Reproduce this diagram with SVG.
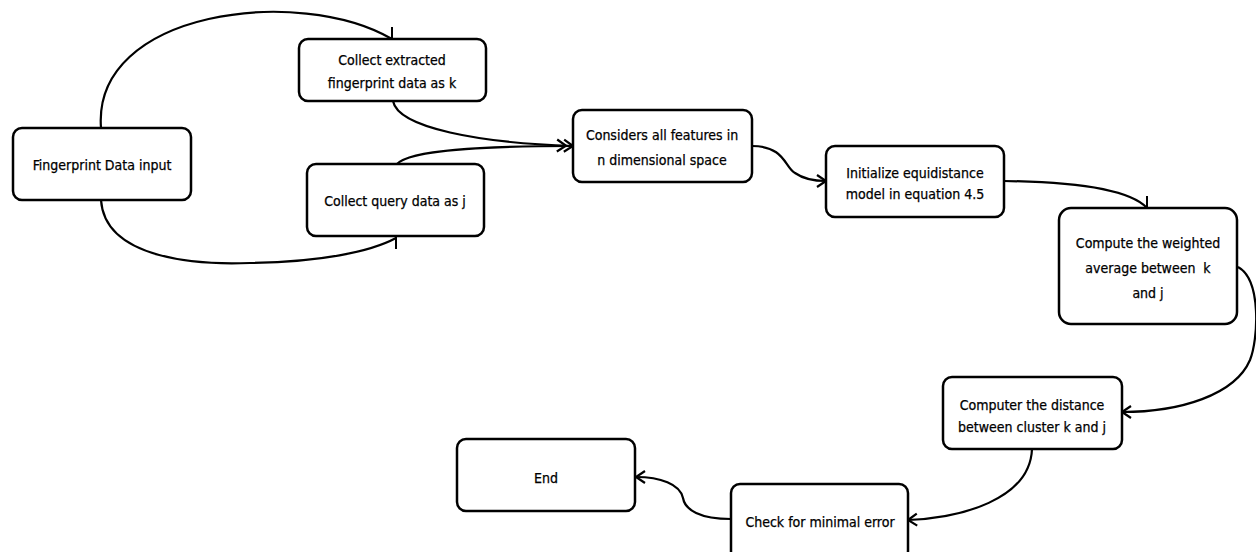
<svg xmlns="http://www.w3.org/2000/svg" width="1256" height="552" viewBox="0 0 1256 552">
<style>
.node rect{fill:#fff;stroke:#000;stroke-width:2.5}
.node text{font-family:"Liberation Sans Narrow","DejaVu Sans Condensed","Liberation Sans",sans-serif;font-size:14px;fill:#000;stroke:#000;stroke-width:0.25;text-anchor:middle;white-space:pre}
.conn path{fill:none;stroke:#000;stroke-width:2.2}
</style>
<defs>
<marker id="open" viewBox="-12 -8 14 16" refX="0" refY="0" markerWidth="14" markerHeight="16" markerUnits="userSpaceOnUse" orient="auto">
<path d="M-9,-6 L0,0 L-9,6" fill="none" stroke="#000" stroke-width="2.2"/>
</marker>
<marker id="dbl" viewBox="-20 -8 22 16" refX="0" refY="0" markerWidth="22" markerHeight="16" markerUnits="userSpaceOnUse" orient="auto">
<path d="M-9,-6 L0,0 L-9,6 M-16,-6 L-7,0 L-16,6" fill="none" stroke="#000" stroke-width="2.2"/>
</marker>
<marker id="tickUp" viewBox="-3 -14 6 16" refX="0" refY="0" markerWidth="6" markerHeight="16" markerUnits="userSpaceOnUse" orient="0">
<path d="M0,1 L0,-12" fill="none" stroke="#000" stroke-width="2"/>
</marker>
<marker id="tickDown" viewBox="-3 -2 6 16" refX="0" refY="0" markerWidth="6" markerHeight="16" markerUnits="userSpaceOnUse" orient="0">
<path d="M0,-1 L0,11" fill="none" stroke="#000" stroke-width="2"/>
</marker>
</defs>
<g id="connectors" class="conn">
<path d="M101,128 C92,10 300,-15 392,39" marker-end="url(#tickUp)"/>
<path d="M101,200 C105,260 200,265 250,263 C320,262 370,252 396,238" marker-end="url(#tickDown)"/>
<path d="M393,101 C398,128 480,143 573,146" marker-end="url(#dbl)"/>
<path d="M397,164 C410,150 480,146 573,146"/>
<path d="M752,146 C785,146 785,168 795,173 C805,180 815,181 826,181" marker-end="url(#open)"/>
<path d="M1004,181 C1080,182 1130,190 1147,208" marker-end="url(#tickUp)"/>
<path d="M1238,267 C1262,280 1258,340 1250,360 C1235,395 1180,412 1122,412" marker-end="url(#open)"/>
<path d="M1032,449 C1030,500 960,518 908,520" marker-end="url(#open)"/>
<path d="M731,519 C700,519 685,510 683,498 C680,484 660,477 636,477" marker-end="url(#open)"/>
</g>
<g id="n1" class="node"><rect x="13" y="128" width="178" height="72" rx="9"/><text x="102" y="170">Fingerprint Data input</text></g>
<g id="n2" class="node"><rect x="299" y="39" width="187" height="62" rx="9"/><text x="392" y="65">Collect extracted</text><text x="392" y="88">fingerprint data as k</text></g>
<g id="n3" class="node"><rect x="307" y="164" width="177" height="72" rx="9"/><text x="395" y="206">Collect query data as j</text></g>
<g id="n4" class="node"><rect x="573" y="110" width="179" height="72" rx="9"/><text x="662" y="140">Considers all features in</text><text x="662" y="165">n dimensional space</text></g>
<g id="n5" class="node"><rect x="826" y="146" width="178" height="71" rx="9"/><text x="915" y="178">Initialize equidistance</text><text x="915" y="199">model in equation 4.5</text></g>
<g id="n6" class="node"><rect x="1059" y="208" width="178" height="116" rx="12"/><text x="1148" y="248">Compute the weighted</text><text x="1148" y="273">average between  k</text><text x="1148" y="298">and j</text></g>
<g id="n7" class="node"><rect x="943" y="377" width="179" height="72" rx="9"/><text x="1032" y="410">Computer the distance</text><text x="1032" y="432">between cluster k and j</text></g>
<g id="n8" class="node"><rect x="731" y="484" width="177" height="76" rx="9"/><text x="820" y="527">Check for minimal error</text></g>
<g id="n9" class="node"><rect x="457" y="439" width="178" height="72" rx="9"/><text x="546" y="483">End</text></g>
</svg>
